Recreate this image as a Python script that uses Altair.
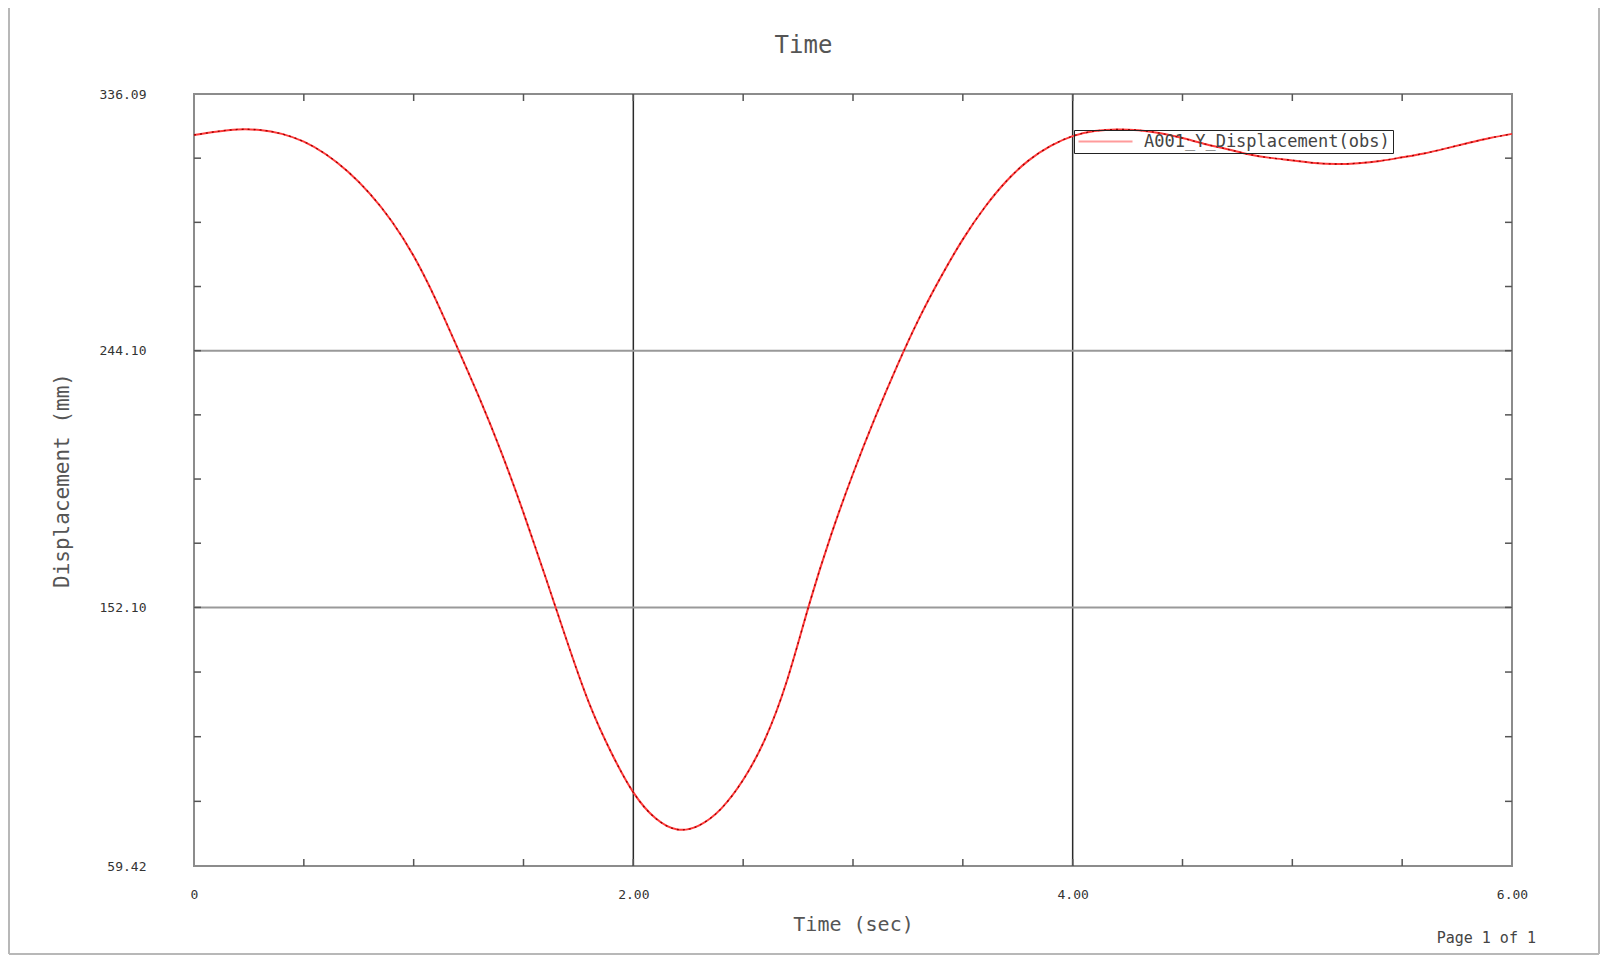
import altair as alt
import pandas as pd
import numpy as np

# ---- data ----
TIME = [0.0, 0.1, 0.2, 0.3, 0.4, 0.5, 0.6, 0.7, 0.8, 0.9,
        1.0, 1.1, 1.2, 1.3, 1.4, 1.5, 1.6, 1.7, 1.8, 1.9,
        2.0, 2.1, 2.2, 2.3, 2.4, 2.5, 2.6, 2.7, 2.8, 2.9,
        3.0, 3.1, 3.2, 3.3, 3.4, 3.5, 3.6, 3.7, 3.8, 3.9,
        4.0, 4.1, 4.2, 4.3, 4.4, 4.5, 4.6, 4.7, 4.8, 4.9,
        5.0, 5.1, 5.2, 5.3, 5.4, 5.5, 5.6, 5.7, 5.8, 5.9, 6.0]
DISP = [321.4, 322.6, 323.4, 323.2, 321.8, 319.0, 314.5, 308.3, 300.4, 290.5,
        278.0, 262.5, 245.0, 227.0, 207.5, 186.0, 163.0, 139.5, 117.5, 100.0,
        85.8, 76.6, 72.5, 74.0, 80.0, 90.3, 105.0, 126.0, 153.0, 178.0,
        200.0, 220.0, 238.5, 255.5, 270.5, 284.0, 295.5, 305.0, 312.3, 317.5,
        321.0, 322.8, 323.4, 323.1, 322.0, 320.3, 318.2, 316.4, 314.5, 313.2,
        312.3, 311.4, 311.0, 311.3, 312.1, 313.4, 314.8, 316.6, 318.5, 320.3, 321.8]
SERIES = "A001_Y_Displacement(obs)"

X_DOMAIN = [0, 6]
Y_DOMAIN = [59.42, 336.09]
X_LABEL_VALUES = [0, 2, 4, 6]
Y_LABEL_VALUES = [59.42, 152.10, 244.10, 336.09]
X_GRID = [2, 4]
Y_GRID = [152.10, 244.10]
X_MINOR = [0.5, 1.0, 1.5, 2.0, 2.5, 3.0, 3.5, 4.0, 4.5, 5.0, 5.5]
Y_MINOR = sorted(set(
    list(np.linspace(59.42, 152.10, 5)[1:]) +
    list(np.linspace(152.10, 244.10, 5)[1:]) +
    list(np.linspace(244.10, 336.09, 5)[1:-1])
))
TITLE_TEXT = ["Time"]
PAGE_TEXT = ["Page 1 of 1"]

W, H = 1318, 772
PAD_L, PAD_T = 186, 86
SVG_W, SVG_H = 1593, 948
FONT = "DejaVu Sans Mono"
TICK_LEN = 7

xs = alt.Scale(domain=X_DOMAIN, nice=False, zero=False)
ys = alt.Scale(domain=Y_DOMAIN, nice=False, zero=False)

x_axis = alt.Axis(values=X_LABEL_VALUES,
                  labelExpr="datum.value == 0 ? '0' : format(datum.value, '.2f')",
                  domain=False, ticks=False, tickSize=0, grid=False,
                  labelFlush=False,
                  labelFont=FONT, labelFontSize=13, labelColor="#333",
                  labelBaseline="middle", labelPadding=28,
                  titleFont=FONT, titleFontSize=20, titleFontWeight="normal",
                  titleColor="#555", titleX=W / 2, titleY=58,
                  titleBaseline="middle", titleAlign="center")
y_axis = alt.Axis(values=Y_LABEL_VALUES, format=".2f",
                  domain=False, ticks=False, tickSize=0, grid=False,
                  labelFlush=False,
                  labelFont=FONT, labelFontSize=13, labelColor="#333",
                  labelPadding=48,
                  titleFont=FONT, titleFontSize=21, titleFontWeight="normal",
                  titleColor="#555", titleX=-132, titleY=H / 2, titleAngle=270,
                  titleBaseline="middle", titleAlign="center")


def X(field):
    return alt.X(field, type="quantitative", scale=xs, axis=x_axis, title="Time (sec)")


def Y(field):
    return alt.Y(field, type="quantitative", scale=ys, axis=y_axis, title="Displacement (mm)")


df = pd.DataFrame({"t": TIME, "d": DISP, "s": SERIES})

line = alt.Chart(df).mark_line(strokeWidth=2, interpolate="natural").encode(
    x=X("t"), y=Y("d"),
    color=alt.Color("s:N", scale=alt.Scale(range=["#ff3a3a"]),
                    legend=alt.Legend(title=None, orient="none",
                                      legendX=880, legendY=36,
                                      strokeColor="#222", padding=3,
                                      symbolType="M-3.6,0H3.6", symbolSize=225,
                                      symbolOffset=20,
                                      symbolStrokeWidth=2, symbolOpacity=0.5,
                                      labelFont=FONT, labelFontSize=17,
                                      labelLimit=500,
                                      labelColor="#444", labelOffset=30)),
)
dots = alt.Chart(df).mark_line(color="#9a0000", strokeWidth=1.3,
                               strokeDash=[2, 4], interpolate="natural").encode(
    x=X("t"), y=Y("d"))

xgrid = alt.Chart(pd.DataFrame({"v": X_GRID})).mark_rule(
    color="#2a2a2a", strokeWidth=1.5).encode(x=X("v"))
ygrid = alt.Chart(pd.DataFrame({"v": Y_GRID})).mark_rule(
    color="#999", strokeWidth=2).encode(y=Y("v"))

xt = pd.DataFrame({"v": X_MINOR})
yt = pd.DataFrame({"v": Y_MINOR})
tick_style = dict(color="#555", strokeWidth=1.5)
xt_bot = alt.Chart(xt).mark_rule(**tick_style).encode(
    x=X("v"), y=alt.value(H), y2=alt.value(H - TICK_LEN))
xt_top = alt.Chart(xt).mark_rule(**tick_style).encode(
    x=X("v"), y=alt.value(0), y2=alt.value(TICK_LEN))
yt_left = alt.Chart(yt).mark_rule(**tick_style).encode(
    y=Y("v"), x=alt.value(0), x2=alt.value(TICK_LEN))
yt_right = alt.Chart(yt).mark_rule(**tick_style).encode(
    y=Y("v"), x=alt.value(W), x2=alt.value(W - TICK_LEN))

title = alt.Chart(pd.DataFrame({"p": TITLE_TEXT})).mark_text(
    align="center", baseline="middle", font=FONT, fontSize=24, color="#555").encode(
    text="p:N", x=alt.value(609.5), y=alt.value(-48))

page = alt.Chart(pd.DataFrame({"p": PAGE_TEXT})).mark_text(
    align="right", baseline="middle", font=FONT, fontSize=15, color="#444").encode(
    text="p:N", x=alt.value(W + 24), y=alt.value(H + 72))

# page frame (left, right, bottom edges of the sheet)
fl, fr = -PAD_L + 1, SVG_W - PAD_L - 2
ft, fb = -PAD_T, SVG_H - PAD_T - 2
frame_style = dict(color="#b8b8b8", strokeWidth=2)
frame_df = pd.DataFrame({"k": [0]})
frame_left = alt.Chart(frame_df).mark_rule(**frame_style).encode(
    x=alt.value(fl), y=alt.value(ft), y2=alt.value(fb))
frame_right = alt.Chart(frame_df).mark_rule(**frame_style).encode(
    x=alt.value(fr), y=alt.value(ft), y2=alt.value(fb))
frame_bottom = alt.Chart(frame_df).mark_rule(**frame_style).encode(
    x=alt.value(fl), x2=alt.value(fr), y=alt.value(fb))

chart = alt.layer(frame_left, frame_right, frame_bottom,
                  xgrid, ygrid, line, dots, xt_bot, xt_top, yt_left, yt_right,
                  title, page).properties(
    width=W, height=H,
    padding={"left": PAD_L, "top": PAD_T,
             "right": SVG_W - PAD_L - W, "bottom": SVG_H - PAD_T - H},
    autosize=alt.AutoSizeParams(type="none"),
    background="white",
).configure_view(stroke="#8c8c8c", strokeWidth=2)

chart.save("out.html", embed_options={"renderer": "svg", "actions": False})
